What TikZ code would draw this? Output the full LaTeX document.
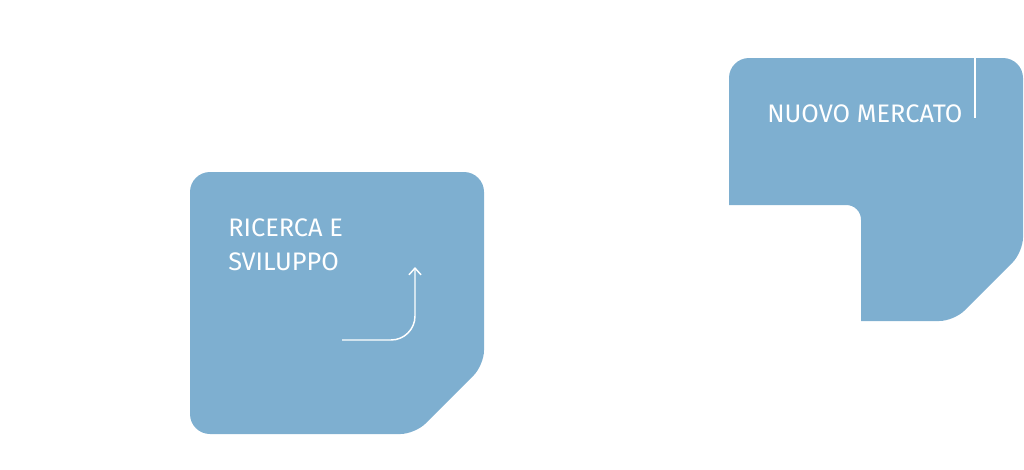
\documentclass[tikz,border=0pt]{standalone}
\usepackage{fontspec}
\setmainfont{Fira Sans}
\usetikzlibrary{positioning, arrows.meta}
\definecolor{panelblue}{RGB}{126, 175, 208}

\begin{document}
\begin{tikzpicture}[x=0.75pt, y=-0.75pt]
    \def\rbig{15pt}
    \def\rsmall{11pt}

    % Canvas
    \useasboundingbox (0,0) rectangle (1024,469);

    % Left panel (research)
    \fill[panelblue] (190,300) [rounded corners=\rbig] -- (190,172) -- (484,172)
        [rounded corners=\rsmall] -- (484,365) -- (415,434)
        [rounded corners=\rbig] -- (190,434) -- cycle;

    % Right panel (market)
    \fill[panelblue] (729,150) [rounded corners=\rbig] -- (729,58) -- (1023,58)
        [rounded corners=\rsmall] -- (1023,252) -- (954,321)
        [sharp corners] -- (861,321)
        [rounded corners=\rsmall] -- (861,205)
        [sharp corners] -- (729,205) -- cycle;

    % Panel labels
    \node[anchor=base west, inner sep=0pt, text=white, font=\fontsize{19}{26}\selectfont]
        (market) at (767,122) {NUOVO MERCATO};
    \node[anchor=north west, inner sep=0pt, align=left, text=white, font=\fontsize{19}{26}\selectfont]
        (research) at (228,218) {RICERCA E\\SVILUPPO};

    % Small white marks
    \draw[white, line width=1.1pt] (975,58) -- (975,118);
    \draw[white, line width=1.1pt, rounded corners=18pt,
          -{Straight Barb[length=5pt, width=9pt]}]
        (342,340) -- (415,340) -- (415,267);

\end{tikzpicture}
\end{document}
